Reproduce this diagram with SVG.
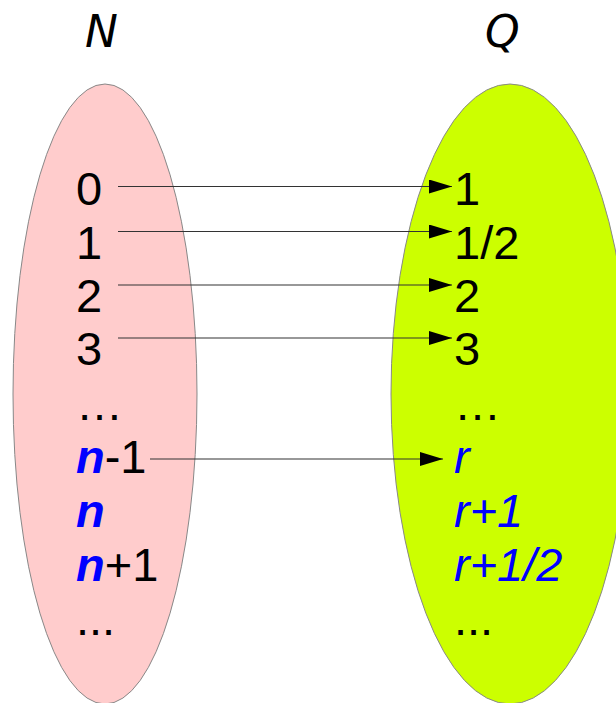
<svg xmlns="http://www.w3.org/2000/svg" width="616" height="703" viewBox="0 0 616 703">
<style>
.t{font-family:"Liberation Sans",Arial,sans-serif;font-size:47px;fill:#000}
.h{font-family:"DejaVu Sans",sans-serif;font-size:44px;font-style:italic;fill:#000}
.bi{fill:#0000ff;font-weight:bold;font-style:italic}
.i{fill:#0000ff;font-style:italic}
.c{stroke:#333;stroke-width:1.2;fill:none;marker-end:url(#ah)}
</style>
<defs>
<marker id="ah" markerUnits="userSpaceOnUse" markerWidth="24" markerHeight="16" refX="23" refY="7" orient="auto">
<path d="M0,0 L23,7 L0,14 Z" fill="#000"/>
</marker>
</defs>
<rect width="616" height="703" fill="#fff"/>
<g id="setN">
<ellipse cx="105" cy="394" rx="92" ry="310" fill="#ffcccc" stroke="#888" stroke-width="1"/>
<text class="h" x="85" y="47">N</text>
</g>
<g id="setQ">
<ellipse cx="510" cy="394" rx="119" ry="310" fill="#ccff00" stroke="#888" stroke-width="1"/>
<text class="h" x="485" y="47">Q</text>
</g>
<g id="left-items">
<text class="t" x="76" y="205">0</text>
<text class="t" x="76" y="259">1</text>
<text class="t" x="76" y="312">2</text>
<text class="t" x="76" y="365">3</text>
<text class="t" x="76" y="420">…</text>
<text class="t" x="76" y="473"><tspan class="bi">n</tspan>-1</text>
<text class="t" x="76" y="527"><tspan class="bi">n</tspan></text>
<text class="t" x="76" y="581"><tspan class="bi">n</tspan>+1</text>
<text class="t" x="76" y="635">...</text>
</g>
<g id="right-items">
<text class="t" x="454" y="205">1</text>
<text class="t" x="454" y="259">1/2</text>
<text class="t" x="454" y="312">2</text>
<text class="t" x="454" y="365">3</text>
<text class="t" x="454" y="420">…</text>
<text class="t i" x="454" y="473">r</text>
<text class="t i" x="454" y="527">r+1</text>
<text class="t i" x="454" y="581">r+1/2</text>
<text class="t" x="454" y="635">...</text>
</g>
<g id="connectors">
<line class="c" x1="118" y1="186.5" x2="452" y2="186.5"/>
<line class="c" x1="118" y1="231.5" x2="452" y2="231.5"/>
<line class="c" x1="118" y1="285" x2="452" y2="285"/>
<line class="c" x1="118" y1="338" x2="452" y2="338"/>
<line class="c" x1="150" y1="459" x2="443" y2="459"/>
</g>
</svg>
